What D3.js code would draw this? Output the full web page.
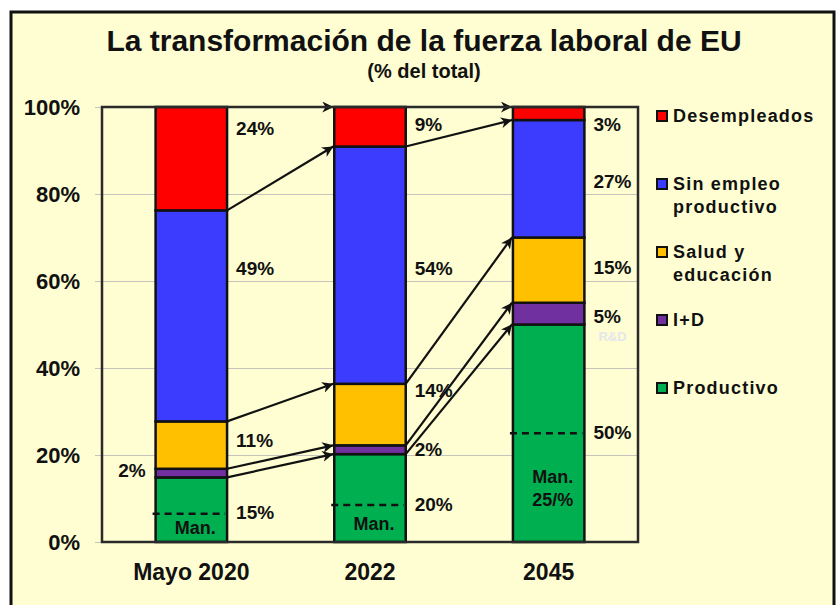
<!DOCTYPE html>
<html>
<head>
<meta charset="utf-8">
<script src="https://cdn.jsdelivr.net/npm/d3@7/dist/d3.min.js"></script>
<style>
  html, body { margin: 0; padding: 0; background: #ffffff; }
  text { font-family: "Liberation Sans", Arial, sans-serif; font-weight: bold; fill: #111; }
</style>
</head>
<body>
<svg id="chart" width="836" height="605"></svg>
<script>
// data
var periods = ['Mayo 2020', '2022', '2045'];
var productivo = [15, 20, 50];
var iyd = [2, 2, 5];
var salud = [11, 14, 15];
var sinEmpleo = [49, 54, 27];
var desempleados = [24, 9, 3];
var manufactura = [6.5, 8.5, 25];   // dashed "Man." level, % of axis
var manLabels = [['Man.'], ['Man.'], ['Man.', '25/%']];
var yTicks = [0, 20, 40, 60, 80, 100];

var seriesNames = ['Productivo', 'I+D', 'Salud y educación', 'Sin empleo productivo', 'Desempleados'];
var legendLines = [['Productivo'], ['I+D'], ['Salud y', 'educación'], ['Sin empleo', 'productivo'], ['Desempleados']];
var colors = ['#00b050', '#7030a0', '#ffc000', '#3c3cff', '#ff0000'];

// where each value label sits, in axis % (hand placed in the original)
var labelLevels = [
  [6.9, 8.7, 25.3],
  [16.5, 21.4, 52],
  [23.4, 34.9, 63.2],
  [63, 63, 83],
  [95.2, 96.1, 96.1]
];

var svg = d3.select('#chart');
var bg = '#fefed2';

// outer frame
svg.append('rect')
  .attr('x', 11).attr('y', 12)
  .attr('width', 823).attr('height', 620)
  .attr('fill', bg).attr('stroke', '#111').attr('stroke-width', 3);

svg.append('text')
  .attr('x', 424).attr('y', 51)
  .attr('text-anchor', 'middle')
  .style('font-size', '30px')
  .text('La transformación de la fuerza laboral de EU');

svg.append('text')
  .attr('x', 424).attr('y', 78)
  .attr('text-anchor', 'middle')
  .style('font-size', '20px')
  .text('(% del total)');

var plot = { left: 102, top: 107, right: 638, bottom: 542 };

var x = d3.scaleBand()
  .domain(periods)
  .range([plot.left, plot.right])
  .paddingInner(0.6)
  .paddingOuter(0.3);

var y = d3.scaleLinear()
  .domain([0, 100])
  .range([plot.bottom, plot.top]);

var table = periods.map(function (p, i) {
  var row = { period: p };
  row[seriesNames[0]] = productivo[i];
  row[seriesNames[1]] = iyd[i];
  row[seriesNames[2]] = salud[i];
  row[seriesNames[3]] = sinEmpleo[i];
  row[seriesNames[4]] = desempleados[i];
  return row;
});

var stacked = d3.stack()
  .keys(seriesNames)
  .offset(d3.stackOffsetExpand)(table);

// gridlines
svg.append('g')
  .attr('transform', 'translate(' + plot.left + ',0)')
  .call(d3.axisLeft(y).tickValues(yTicks)
    .tickSize(-(plot.right - plot.left))
    .tickSizeOuter(0)
    .tickFormat(''))
  .call(function (g) {
    g.select('.domain').remove();
    g.selectAll('line').attr('stroke', '#c4c4bc').attr('stroke-width', 1).attr('x1', -7);
  });

// y tick labels
svg.append('g')
  .selectAll('text')
  .data(yTicks)
  .enter().append('text')
  .attr('x', 80)
  .attr('y', function (d) { return y(d); })
  .attr('dy', '0.36em')
  .attr('text-anchor', 'end')
  .style('font-size', '22px')
  .text(function (d) { return d + '%'; });

// bars
var bw = x.bandwidth();
svg.append('g')
  .selectAll('g')
  .data(stacked)
  .enter().append('g')
  .attr('fill', function (d, i) { return colors[i]; })
  .selectAll('rect')
  .data(function (d) { return d; })
  .enter().append('rect')
  .attr('x', function (d) { return x(d.data.period); })
  .attr('y', function (d) { return y(d[1] * 100); })
  .attr('width', bw)
  .attr('height', function (d) { return y(d[0] * 100) - y(d[1] * 100); })
  .attr('stroke', '#111')
  .attr('stroke-width', 2.5);

// manufacturing dashed line and label
periods.forEach(function (p, i) {
  var yy = y(manufactura[i]);
  svg.append('line')
    .attr('x1', x(p) - 3).attr('x2', x(p) + bw - 2)
    .attr('y1', yy).attr('y2', yy)
    .attr('stroke', '#111').attr('stroke-width', 2.5)
    .attr('stroke-dasharray', '7,5');
  var mid = (yy + y(0)) / 2;
  var lines = manLabels[i];
  lines.forEach(function (t, k) {
    svg.append('text')
      .attr('x', x(p) + bw / 2 + 4)
      .attr('y', mid + (k - (lines.length - 1) / 2) * 23)
      .attr('dy', '0.36em')
      .attr('text-anchor', 'middle')
      .style('font-size', '18px')
      .text(t);
  });
});

// arrows between bars
svg.append('defs').append('marker')
  .attr('id', 'head')
  .attr('viewBox', '0 0 10 10')
  .attr('refX', 10).attr('refY', 5)
  .attr('markerWidth', 11).attr('markerHeight', 11)
  .attr('markerUnits', 'userSpaceOnUse')
  .attr('orient', 'auto')
  .append('path')
  .attr('d', 'M0,0L10,5L0,10L3,5Z')
  .attr('fill', '#111');

var arrows = [];
stacked.forEach(function (s) {
  for (var i = 0; i < periods.length - 1; i++) {
    arrows.push({
      x1: x(periods[i]) + bw, y1: y(s[i][1] * 100),
      x2: x(periods[i + 1]), y2: y(s[i + 1][1] * 100)
    });
  }
});

svg.append('g')
  .selectAll('line')
  .data(arrows)
  .enter().append('line')
  .attr('x1', function (d) { return d.x1; })
  .attr('y1', function (d) { return d.y1; })
  .attr('x2', function (d) { return d.x2 - 1; })
  .attr('y2', function (d) { return d.y2; })
  .attr('stroke', '#111')
  .attr('stroke-width', 2.2)
  .attr('marker-end', 'url(#head)');

// value labels
var valueSets = [productivo, iyd, salud, sinEmpleo, desempleados];
valueSets.forEach(function (vals, s) {
  vals.forEach(function (v, i) {
    var left = (i === 0 && s === 1);
    svg.append('text')
      .attr('x', left ? x(periods[i]) - 10 : x(periods[i]) + bw + 9)
      .attr('y', y(labelLevels[s][i]))
      .attr('dy', '0.36em')
      .attr('text-anchor', left ? 'end' : 'start')
      .style('font-size', '19px')
      .text(v + '%');
  });
});

// faint ghost label left over in the original
svg.append('text')
  .attr('x', x(periods[2]) + bw + 14)
  .attr('y', y(47.3))
  .attr('dy', '0.36em')
  .style('font-size', '13px')
  .style('fill', '#e6e6ec')
  .text('R&D');

// plot border
svg.append('rect')
  .attr('x', plot.left).attr('y', plot.top)
  .attr('width', plot.right - plot.left)
  .attr('height', plot.bottom - plot.top)
  .attr('fill', 'none')
  .attr('stroke', '#2a2a2a')
  .attr('stroke-width', 2.5);

// category labels
svg.append('g')
  .selectAll('text')
  .data(periods)
  .enter().append('text')
  .attr('x', function (d) { return x(d) + bw / 2; })
  .attr('y', 580)
  .attr('text-anchor', 'middle')
  .style('font-size', '23px')
  .text(function (d) { return d; });

// legend, top entry first
var legend = svg.append('g')
  .selectAll('g')
  .data(d3.range(seriesNames.length).reverse())
  .enter().append('g')
  .attr('transform', function (d, k) { return 'translate(657,' + (116 + k * 68) + ')'; });

legend.append('rect')
  .attr('x', 0).attr('y', -5)
  .attr('width', 10).attr('height', 10)
  .attr('fill', function (d) { return colors[d]; })
  .attr('stroke', '#111').attr('stroke-width', 2);

legend.each(function (d) {
  var g = d3.select(this);
  legendLines[d].forEach(function (t, k) {
    g.append('text')
      .attr('x', 16)
      .attr('y', k * 23)
      .attr('dy', '0.36em')
      .style('font-size', '18px')
      .style('letter-spacing', '1.2px')
      .text(t);
  });
});
</script>
</body>
</html>
